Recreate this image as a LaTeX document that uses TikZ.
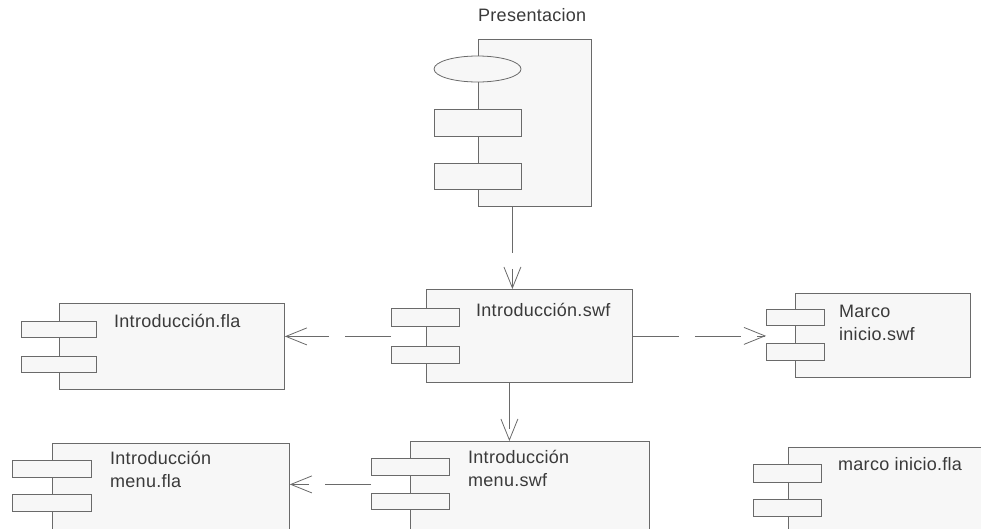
\documentclass[tikz,border=0pt]{standalone}
\usepackage{fontspec}
\setmainfont[LetterSpace=1.5]{Liberation Sans}
\usetikzlibrary{arrows.meta,calc,shapes.geometric}
\definecolor{edge}{HTML}{6A6A6A}
\definecolor{boxfill}{HTML}{F7F7F7}
\definecolor{ink}{HTML}{3A3A3A}

\begin{document}
\begin{tikzpicture}[x=1pt, y=-1pt,
    box/.style={draw=edge, fill=boxfill, line width=0.8pt, rectangle, inner sep=0pt, anchor=north west},
    tab/.style={box},
    txt/.style={text=ink, inner sep=0pt, anchor=base west, align=left, font=\fontsize{18}{23}\selectfont},
    dep/.style={draw=edge, line width=0.8pt, dash pattern=on 46pt off 16pt, -{Straight Barb[length=21pt,width=17pt]}}]
      \useasboundingbox (0,0) rectangle (981,528);
      \clip (0,0) rectangle (981,528);

      \node[box, minimum width=113pt, minimum height=167pt] (pres) at (478,39) {};
      \node[box, ellipse, anchor=center, minimum width=87pt, minimum height=26pt] (presE) at (477.5,69) {};
      \node[tab, minimum width=87pt, minimum height=27pt] (presA) at (434,109) {};
      \node[tab, minimum width=87pt, minimum height=26pt] (presB) at (434,163) {};
      \node[txt] (presT) at (478,21) {Presentacion};

      \node[box, minimum width=206pt, minimum height=93pt] (swf) at (426,289) {};
      \node[tab, minimum width=68pt, minimum height=18pt] (swfA) at (391,308) {};
      \node[tab, minimum width=68pt, minimum height=17pt] (swfB) at (391,346) {};
      \node[txt] (swfT) at (476,316) {Introducción.swf};

      \node[box, minimum width=225pt, minimum height=86pt] (fla) at (59,303) {};
      \node[tab, minimum width=75pt, minimum height=16pt] (flaA) at (21,321) {};
      \node[tab, minimum width=75pt, minimum height=16pt] (flaB) at (21,356) {};
      \node[txt] (flaT) at (114,327) {Introducción.fla};

      \node[box, minimum width=175pt, minimum height=84pt] (marco) at (795,293) {};
      \node[tab, minimum width=58pt, minimum height=16pt] (marcoA) at (766,309) {};
      \node[tab, minimum width=58pt, minimum height=17pt] (marcoB) at (766,343) {};
      \node[txt] (marcoT) at (839,340) {Marco\\inicio.swf};

      \node[box, minimum width=239pt, minimum height=100pt] (menuswf) at (410,441) {};
      \node[tab, minimum width=78pt, minimum height=17pt] (menuswfA) at (371,458) {};
      \node[tab, minimum width=78pt, minimum height=16pt] (menuswfB) at (371,493) {};
      \node[txt] (menuswfT) at (468,486.5) {Introducción\\menu.swf};

      \node[box, minimum width=237pt, minimum height=100pt] (menufla) at (52,443) {};
      \node[tab, minimum width=79pt, minimum height=17pt] (menuflaA) at (12,460) {};
      \node[tab, minimum width=79pt, minimum height=17pt] (menuflaB) at (12,494) {};
      \node[txt] (menuflaT) at (110,487.5) {Introducción\\menu.fla};

      \node[box, minimum width=200pt, minimum height=100pt] (marcofla) at (788,447) {};
      \node[tab, minimum width=68pt, minimum height=18pt] (marcoflaA) at (753,464) {};
      \node[tab, minimum width=68pt, minimum height=17pt] (marcoflaB) at (753,499) {};
      \node[txt] (marcoflaT) at (838,470) {marco inicio.fla};

      \coordinate (swfL) at ($(swfA.south west)!.5!(swfB.north west)$);
      \coordinate (menuswfL) at ($(menuswfA.south west)!.5!(menuswfB.north west)$);

      \draw[dep] ([xshift=-22.5pt]pres.south) -- ([xshift=-22.5pt]pres.south |- swf.north);
      \draw[dep] (swfL) -- (swfL -| fla.east);
      \draw[dep] (swf.east) -- (swf.east -| marcoA.west);
      \draw[dep] ([xshift=-20pt]swf.south) -- ([xshift=-20pt]swf.south |- menuswf.north);
      \draw[dep] (menuswfL) -- (menuswfL -| menufla.east);
    \end{tikzpicture}
\end{document}
